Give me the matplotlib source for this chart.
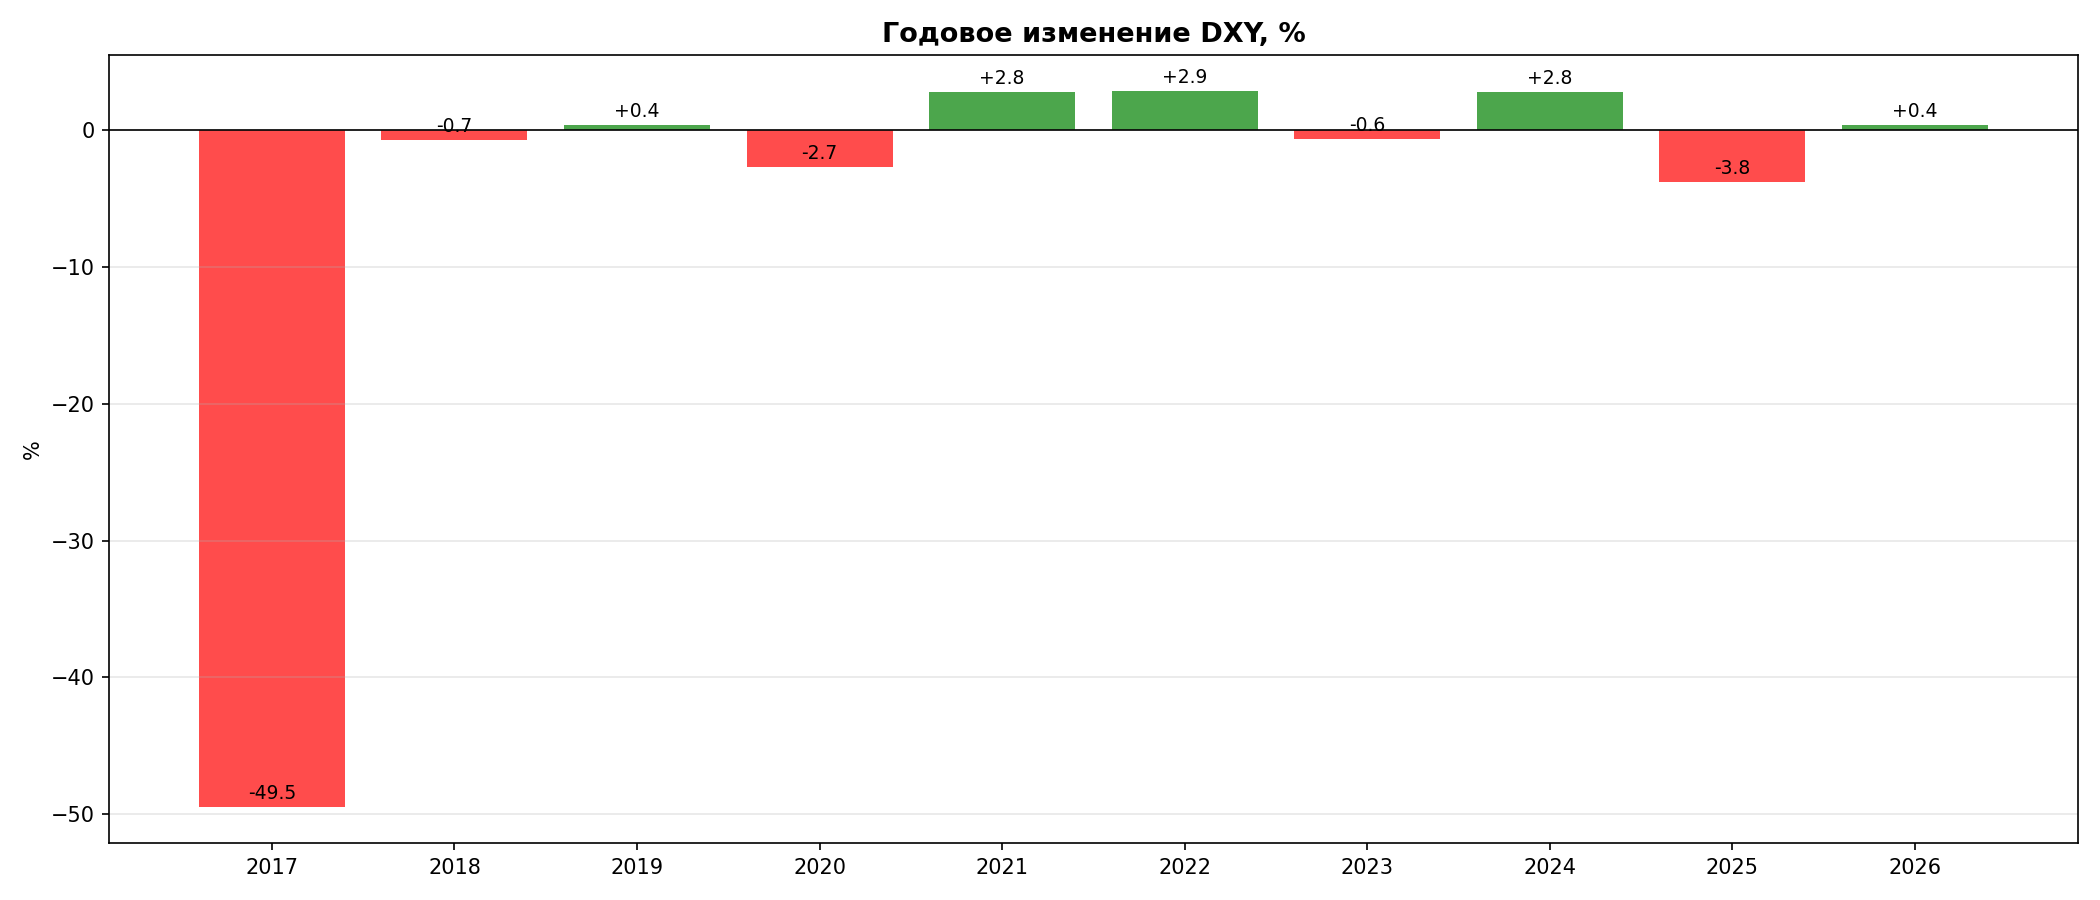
import matplotlib
matplotlib.use("Agg")
import matplotlib.pyplot as plt

years = [2017, 2018, 2019, 2020, 2021, 2022, 2023, 2024, 2025, 2026]
changes = [-49.5, -0.7, 0.4, -2.7, 2.8, 2.9, -0.6, 2.8, -3.8, 0.4]

colors = ['green' if v >= 0 else 'red' for v in changes]

fig, ax = plt.subplots(figsize=(14, 6), dpi=150)
bars = ax.bar(years, changes, color=colors, alpha=0.7)
ax.axhline(0, color='black', linewidth=0.8)

for b, v in zip(bars, changes):
    ax.text(b.get_x() + b.get_width() / 2, v + 0.3, f"{v:+.1f}", ha='center', va='bottom', fontsize=9)

ax.set_title('Годовое изменение DXY, %', fontsize=13, fontweight='bold')
ax.set_ylabel('%')
ax.set_xticks(years)
ax.grid(axis='y', alpha=0.3)

fig.tight_layout()
fig.savefig("out.png")
